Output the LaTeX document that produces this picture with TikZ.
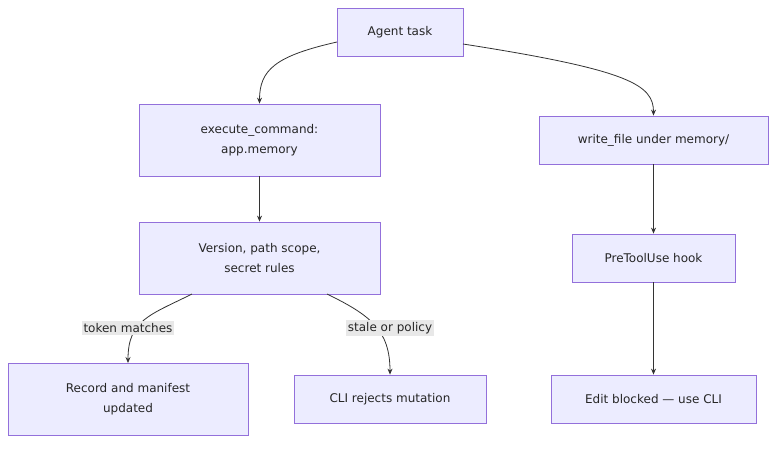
\documentclass[tikz,border=0pt]{standalone}
\usepackage{fontspec}
\setmainfont{DejaVu Sans}
\usetikzlibrary{arrows.meta}
\definecolor{nfill}{HTML}{ECECFF}
\definecolor{nline}{HTML}{9370DB}
\definecolor{lbg}{HTML}{E8E8E8}
\begin{document}
\begin{tikzpicture}[x=1pt,y=-1pt,
  box/.style={draw=nline,fill=nfill,line width=0.8pt,align=center,font=\fontsize{12}{20}\selectfont,text=black!85,inner sep=0pt},
  lab/.style={fill=lbg,font=\fontsize{12}{15}\selectfont,text=black!85,inner sep=2pt},
  ar/.style={draw=black!80,line width=0.8pt,-{Stealth[length=6pt,width=5pt]}}]
\useasboundingbox (0,0) rectangle (784,448);
\node[box,minimum width=126pt,minimum height=48pt] (a) at (400,32) {Agent task};
\node[box,minimum width=241pt,minimum height=72pt] (e) at (259.5,140) {execute\_command:\\app.memory};
\node[box,minimum width=229pt,minimum height=48pt] (w) at (653.5,140) {write\_file under memory/};
\node[box,minimum width=241pt,minimum height=72pt] (v) at (259.5,258) {Version, path scope,\\secret rules};
\node[box,minimum width=163pt,minimum height=48pt] (p) at (653.5,258) {PreToolUse hook};
\node[box,minimum width=240pt,minimum height=72pt] (r) at (128,399) {Record and manifest\\updated};
\node[box,minimum width=192pt,minimum height=48pt] (c) at (390,399) {CLI rejects mutation};
\node[box,minimum width=205pt,minimum height=48pt] (b) at (653.5,399) {Edit blocked — use CLI};
\coordinate (a1) at (337,42);
\coordinate (a2) at (463,44);
\coordinate (v1) at (192,294);
\coordinate (v2) at (327,294);
\draw[ar] (a1) .. controls (275,56) and (259.5,70) .. (e.north);
\draw[ar] (a2) .. controls (630,70) and (653.5,85) .. (w.north);
\draw[ar] (e.south) -- (v.north);
\draw[ar] (w.south) -- (p.north);
\draw[ar] (p.south) -- (b.north);
\draw[ar] (v1) .. controls (150,315) and (128,320) .. (128,363);
\draw[ar] (v2) .. controls (370,315) and (390,330) .. (c.north);
\node[lab] (l1) at (128,328) {token matches};
\node[lab] (l2) at (390,328) {stale or policy};
\end{tikzpicture}
\end{document}
